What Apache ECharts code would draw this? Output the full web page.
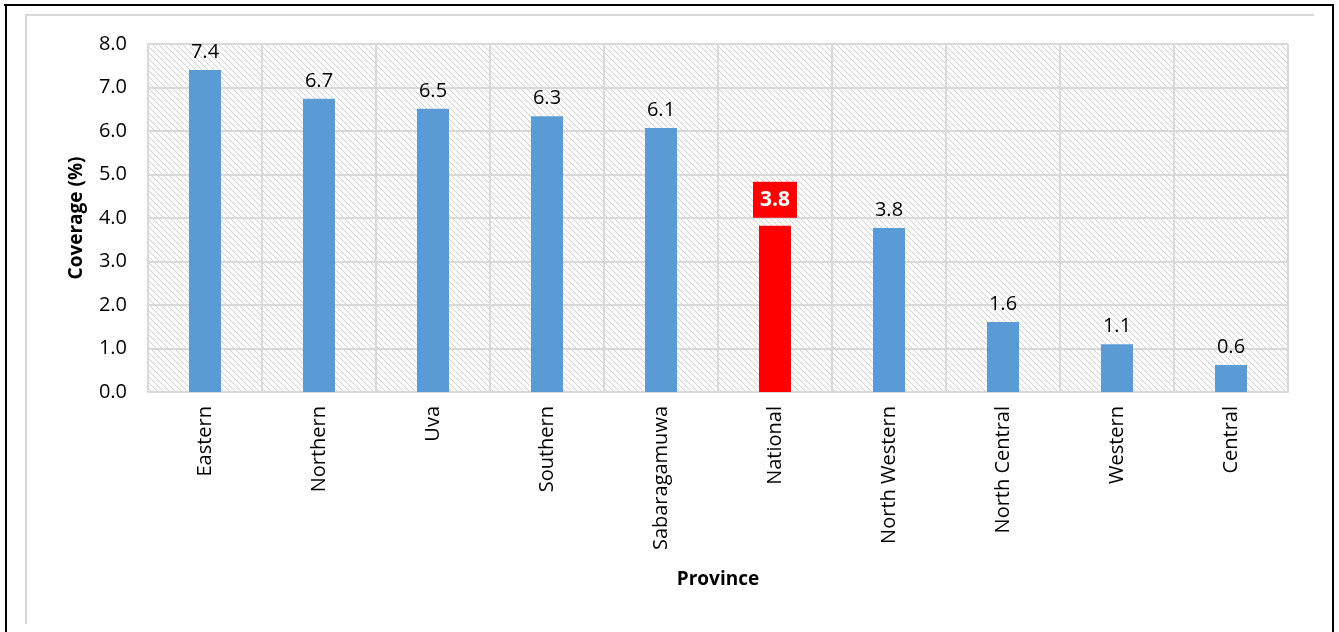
<!DOCTYPE html>
<html><head><meta charset="utf-8">
<script src="https://cdn.jsdelivr.net/npm/echarts@6/dist/echarts.min.js"></script>
<style>html,body{margin:0;padding:0;background:#fff}#c{width:1339px;height:632px}</style>
</head><body><div id="c"></div>
<script>
const categories = ['Eastern','Northern','Uva','Southern','Sabaragamuwa','National','North Western','North Central','Western','Central'];
const coverage = [7.40, 6.74, 6.51, 6.34, 6.07, 3.82, 3.77, 1.61, 1.10, 0.62];
const highlightCategory = 'National';
const yTicks = {min: 0, max: 8, interval: 1};

// hatch pattern
const pc = document.createElement('canvas');
pc.width = 6; pc.height = 6;
const px = pc.getContext('2d');
px.fillStyle = '#ffffff'; px.fillRect(0,0,6,6);
px.fillStyle = '#d2d2d2';
for (let i = 0; i < 6; i++) { px.fillRect(i, i, 1, 1); }

const FONT = 'Open Sans';
const chart = echarts.init(document.getElementById('c'), null, {renderer: 'canvas'});
chart.setOption({
  animation: false,
  textStyle: {fontFamily: FONT},
  grid: {left: 148, right: 51, top: 44, bottom: 240, show: true, borderWidth: 0,
         backgroundColor: {image: pc, repeat: 'repeat'}},
  xAxis: {
    type: 'category', data: categories,
    axisLine: {show: true, lineStyle: {color: '#d9d9d9', width: 2}},
    axisTick: {show: false},
    splitLine: {show: true, interval: 0, lineStyle: {color: '#d9d9d9', width: 2}},
    axisLabel: {rotate: 90, interval: 0, margin: 14, color: '#000', fontSize: 20, fontFamily: FONT},
    name: 'Province', nameLocation: 'middle', nameGap: 178,
    nameTextStyle: {fontWeight: 'bold', fontSize: 19, color: '#000', fontFamily: FONT}
  },
  yAxis: {
    type: 'value', min: yTicks.min, max: yTicks.max, interval: yTicks.interval,
    axisLine: {show: false}, axisTick: {show: false},
    splitLine: {lineStyle: {color: '#d9d9d9', width: 2}},
    axisLabel: {formatter: v => v.toFixed(1), margin: 21, color: '#000', fontSize: 20, fontFamily: FONT},
    name: 'Coverage (%)', nameLocation: 'middle', nameGap: 62,
    nameTextStyle: {fontWeight: 'bold', fontSize: 19, color: '#000', fontFamily: FONT}
  },
  series: [{
    type: 'bar', barWidth: 32,
    data: categories.map((c, i) => {
      const hl = c === highlightCategory;
      return {
        value: coverage[i],
        itemStyle: {color: hl ? '#ff0000' : '#5b9bd5'},
        label: hl ? {show: true, position: 'top', distance: 8, color: '#fff', fontWeight: 'bold',
                     fontSize: 21, backgroundColor: '#ff0000', padding: [8, 7, 7, 7]} : undefined
      };
    }),
    label: {show: true, position: 'top', distance: 8, color: '#000', fontSize: 20, fontFamily: FONT,
            formatter: p => p.value.toFixed(1)}
  }],
  graphic: [
    {type: 'line', shape: {x1: 25, y1: 15, x2: 1314, y2: 15}, style: {stroke: '#d9d9d9', lineWidth: 2}},
    {type: 'line', shape: {x1: 26, y1: 14, x2: 26, y2: 624}, style: {stroke: '#d9d9d9', lineWidth: 2}},
    {type: 'line', shape: {x1: 4, y1: 5, x2: 1334, y2: 5}, style: {stroke: '#000', lineWidth: 2}},
    {type: 'line', shape: {x1: 6, y1: 4, x2: 6, y2: 632}, style: {stroke: '#000', lineWidth: 2}},
    {type: 'line', shape: {x1: 1333, y1: 4, x2: 1333, y2: 632}, style: {stroke: '#000', lineWidth: 2}}
  ]
});
</script></body></html>
